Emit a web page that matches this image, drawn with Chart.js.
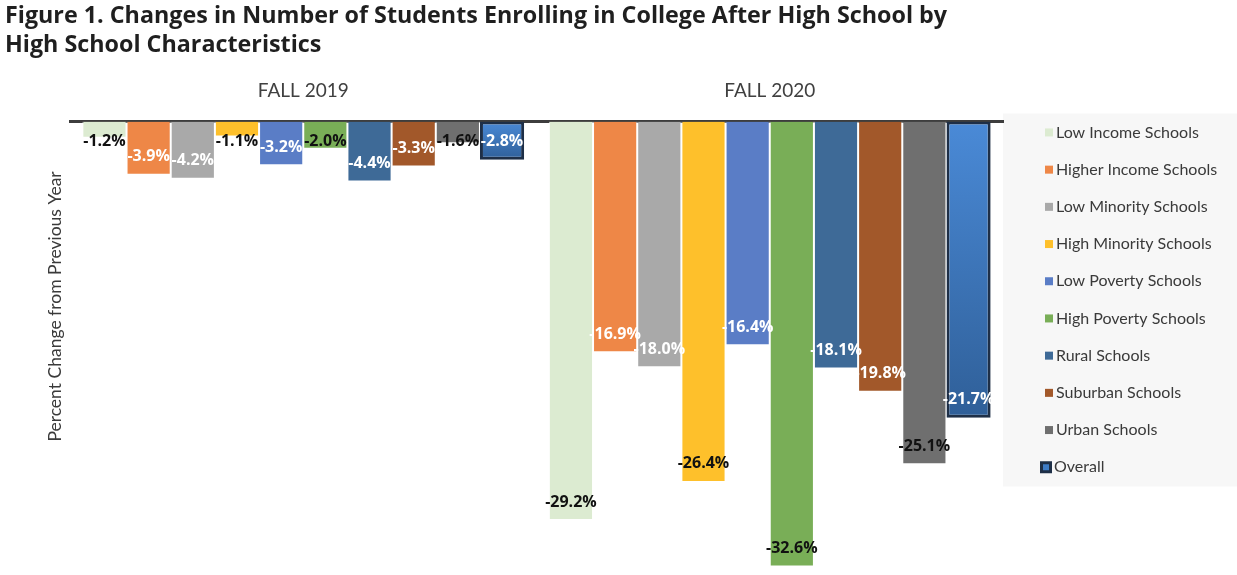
<!DOCTYPE html>
<html>
<head>
<meta charset="utf-8">
<title>Figure 1</title>
<script src="https://cdn.jsdelivr.net/npm/chart.js@4.4.1/dist/chart.umd.min.js"></script>
<style>
  html, body { margin: 0; padding: 0; background: #fff; }
  #wrap { width: 1237px; height: 575px; position: relative; }
</style>
</head>
<body>
<div id="wrap"><canvas id="myChart"></canvas></div>
<script>
const ctx = document.getElementById("myChart").getContext("2d");

// data
const categories = ["FALL 2019", "FALL 2020"];

const seriesNames = [
  "Low Income Schools",
  "Higher Income Schools",
  "Low Minority Schools",
  "High Minority Schools",
  "Low Poverty Schools",
  "High Poverty Schools",
  "Rural Schools",
  "Suburban Schools",
  "Urban Schools",
  "Overall",
];

const lowIncome = [-1.2, -29.2];
const higherIncome = [-3.9, -16.9];
const lowMinority = [-4.2, -18.0];
const highMinority = [-1.1, -26.4];
const lowPoverty = [-3.2, -16.4];
const highPoverty = [-2.0, -32.6];
const rural = [-4.4, -18.1];
const suburban = [-3.3, -19.8];
const urban = [-1.6, -25.1];
const overall = [-2.8, -21.7];

const seriesValues = [
  lowIncome, higherIncome, lowMinority, highMinority, lowPoverty,
  highPoverty, rural, suburban, urban, overall,
];

const barColors = [
  "#dcebd1", "#ee8747", "#a9a9a9", "#fec02b", "#5a7dc6",
  "#79ae57", "#3e6a97", "#a2582a", "#6f6f6f", "#3d7cc6",
];

// label text colour per series (black on light bars, white on dark ones)
const labelColors = [
  "#111", "#fff", "#fff", "#111", "#fff",
  "#111", "#fff", "#fff", "#111", "#fff",
];

// gradient for the "Overall" bars
const overallFill = (c) => {
  const chart = c.chart;
  if (!chart.chartArea || c.raw === undefined) return "#3d7cc6";
  const y = chart.scales.y;
  const top = y.getPixelForValue(0);
  const bottom = y.getPixelForValue(c.raw);
  let g = chart.ctx.createLinearGradient(0, top, 0, bottom);
  g.addColorStop(0, "#4a8ad7");
  g.addColorStop(1, "#2f5f98");
  return g;
};

const datasets = seriesNames.map((name, i) => {
  const isOverall = name === "Overall";
  return {
    label: name,
    data: seriesValues[i],
    backgroundColor: isOverall ? overallFill : barColors[i],
    borderColor: isOverall ? "#1e2f47" : "rgba(255,255,255,0.7)",
    borderWidth: isOverall ? 3 : 1,
    borderSkipped: isOverall ? false : "start",
  };
});

// data labels, legend box and y-axis caption
const extras = {
  id: "extras",
  beforeDraw(chart) {
    const { ctx, chartArea, width } = chart;
    ctx.save();
    ctx.fillStyle = "#f7f7f7";
    ctx.fillRect(chartArea.right, chartArea.top - 8, width - chartArea.right, 373);
    ctx.restore();
  },
  afterDatasetsDraw(chart) {
    const { ctx } = chart;
    const zero = chart.scales.y.getPixelForValue(0);
    ctx.save();
    ctx.font = "bold 16px 'Open Sans'";
    ctx.textAlign = "center";
    ctx.textBaseline = "middle";
    chart.data.datasets.forEach((ds, i) => {
      const meta = chart.getDatasetMeta(i);
      meta.data.forEach((bar, j) => {
        const y = Math.max(bar.y - 18, zero + 20);
        ctx.fillStyle = labelColors[i];
        ctx.fillText(ds.data[j].toFixed(1) + "%", bar.x, y);
      });
    });
    ctx.restore();
  },
  afterDraw(chart) {
    const { ctx, chartArea } = chart;
    ctx.save();
    // legend
    ctx.font = "16px Lato";
    ctx.textBaseline = "middle";
    ctx.textAlign = "left";
    const x0 = chartArea.right + 42;
    seriesNames.forEach((name, i) => {
      const cy = chartArea.top + 11 + i * 37.2;
      if (name === "Overall") {
        ctx.fillStyle = "#1e2f47";
        ctx.fillRect(x0 - 5, cy - 6, 12, 12);
        ctx.fillStyle = "#3d7cc6";
        ctx.fillRect(x0 - 2, cy - 3, 6, 6);
        ctx.fillStyle = "#3a3a3a";
        ctx.fillText(name, x0 + 9, cy);
      } else {
        ctx.fillStyle = barColors[i];
        ctx.fillRect(x0, cy - 4, 8, 8);
        ctx.fillStyle = "#3a3a3a";
        ctx.fillText(name, x0 + 11, cy);
      }
    });
    // y-axis caption
    ctx.translate(chartArea.left - 15, chartArea.top + 185);
    ctx.rotate(-Math.PI / 2);
    ctx.textAlign = "center";
    ctx.font = "17.5px Lato";
    ctx.fillStyle = "#3a3a3a";
    ctx.fillText("Percent Change from Previous Year", 0, 0);
    ctx.restore();
  },
};

const config = {
  type: "bar",
  data: { labels: categories, datasets: datasets },
  options: {
    responsive: true,
    maintainAspectRatio: false,
    animation: false,
    layout: { padding: { left: 5, right: 234, top: 0, bottom: 3 } },
    datasets: {
      bar: { categoryPercentage: 0.947, barPercentage: 1 },
    },
    plugins: {
      legend: { display: false },
      tooltip: { enabled: false },
      title: {
        display: true,
        align: "start",
        text: [
          "Figure 1. Changes in Number of Students Enrolling in College After High School by",
          "High School Characteristics",
        ],
        color: "#1f1f1f",
        font: { family: "Open Sans", size: 23.3, weight: "bold", lineHeight: 1.28 },
        padding: { top: 1, bottom: 0 },
      },
    },
    scales: {
      x: {
        position: "top",
        grid: { display: false, drawTicks: false },
        border: { display: true, color: "#3d3d3d", width: 3 },
        ticks: {
          color: "#404040",
          font: { family: "Lato", size: 19 },
          padding: 19,
        },
      },
      y: {
        min: -33,
        max: 0,
        grid: { display: false },
        border: { display: false },
        ticks: { display: false },
        afterFit: (scale) => {
          scale.width = 65;
        },
      },
    },
  },
  plugins: [extras],
};

const myChart = new Chart(ctx, config);
</script>
</body>
</html>
